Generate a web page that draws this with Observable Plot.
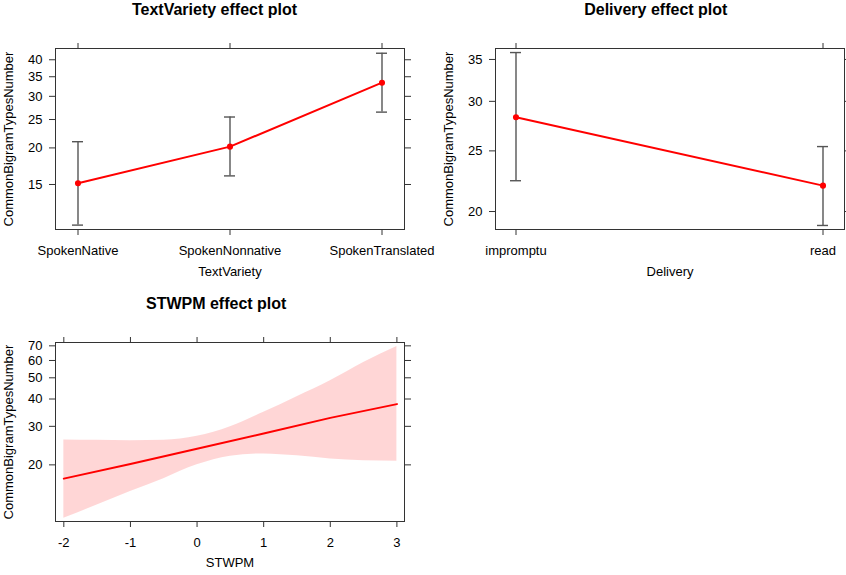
<!DOCTYPE html>
<html><head><meta charset="utf-8">
<script src="https://cdn.jsdelivr.net/npm/d3@7"></script>
<script src="https://cdn.jsdelivr.net/npm/@observablehq/plot@0.6"></script>
<style>
body{margin:0;background:#fff;font-family:Arial,"Liberation Sans",sans-serif;}
#root{position:relative;width:846px;height:575px;overflow:hidden;background:#fff;}
.title{position:absolute;font-weight:bold;font-size:16px;line-height:16px;white-space:nowrap;transform:translateX(-50%);color:#000;font-family:Arial,"Liberation Sans",sans-serif;}
svg{position:absolute;overflow:visible;}
</style></head><body><div id="root"></div>
<script>
// ---- data ----
const textVariety = ["SpokenNative", "SpokenNonnative", "SpokenTranslated"];
const textVarietyFit = [15.15, 20.2, 33.4];
const textVarietyLower = [10.9, 16.05, 26.5];
const textVarietyUpper = [21.0, 25.5, 42.1];
const textVarietyTicks = [15, 20, 25, 30, 35, 40];

const delivery = ["impromptu", "read"];
const deliveryFit = [28.3, 22.0];
const deliveryLower = [22.4, 19.0];
const deliveryUpper = [35.9, 25.4];
const deliveryTicks = [20, 25, 30, 35];

const stwpmFitX = [-2, -1, 0, 1, 2, 3];
const stwpmFit = [17.3, 20.2, 23.7, 27.8, 32.8, 37.9];
const stwpmBandX = [-2, -1.5, -1, -0.5, 0, 0.5, 1, 1.5, 2, 2.5, 3];
const stwpmLower = [11.4, 13.1, 15.1, 17.3, 20.0, 21.9, 22.45, 22.0, 21.3, 20.9, 20.8];
const stwpmUpper = [26.0, 25.9, 25.8, 25.9, 27.0, 29.9, 34.8, 41.0, 48.5, 58.8, 69.5];
const stwpmTicks = [-2, -1, 0, 1, 2, 3];
const yLabel = "CommonBigramTypesNumber";

// ---- rendering ----
const font = 'Arial, "Liberation Sans", sans-serif';
const ink = "#333";
const root = document.getElementById("root");
const style = {fontFamily: font, fontSize: "13px", color: "#000", background: "transparent", overflow: "visible"};

function frameAxes(xTicks, xLabel, yTicks, xFmt, xLabelOffset) {
  return [
    Plot.frame({stroke: ink}),
    Plot.axisX(xTicks ? xTicks : undefined, {anchor: "bottom", tickSize: 6, tickPadding: 10, stroke: ink, tickFormat: xFmt, label: xLabel, labelAnchor: "center", labelArrow: "none", labelOffset: xLabelOffset}),
    Plot.axisX(xTicks ? xTicks : undefined, {anchor: "top", tickSize: 6, stroke: ink, tickFormat: () => "", label: null}),
    Plot.axisY(yTicks, {anchor: "left", tickSize: 6, tickPadding: 7, stroke: ink, tickFormat: d => String(d), label: yLabel, labelAnchor: "center", labelArrow: "none"}),
    Plot.axisY(yTicks, {anchor: "right", tickSize: 6, stroke: ink, tickFormat: () => "", label: null})
  ];
}

function errPanel(cats, fit, lo, hi, yTicks, yDomain, pin, pout, xLabel, width, marginRight) {
  const data = cats.map((c, i) => ({c, fit: fit[i], lo: lo[i], hi: hi[i]}));
  return Plot.plot({
    width, height: 250,
    marginLeft: 55, marginRight, marginTop: 18, marginBottom: 51,
    style,
    x: {type: "band", domain: cats, paddingInner: pin, paddingOuter: pout, align: 0.5},
    y: {type: "log", domain: yDomain},
    marks: [
      ...frameAxes(null, xLabel, yTicks, d => d, 46),
      Plot.ruleX(data, {x: "c", y1: "lo", y2: "hi", stroke: "#555", strokeWidth: 1.4}),
      Plot.tickY(data, {x: "c", y: "lo", stroke: "#555", strokeWidth: 1.4, insetLeft: 2, insetRight: 2}),
      Plot.tickY(data, {x: "c", y: "hi", stroke: "#555", strokeWidth: 1.4, insetLeft: 2, insetRight: 2}),
      Plot.line(data, {x: "c", y: "fit", stroke: "#ff0000", strokeWidth: 2}),
      Plot.dot(data, {x: "c", y: "fit", fill: "#ff0000", stroke: "#ff0000", r: 2.3})
    ]
  });
}

const p1 = errPanel(textVariety, textVarietyFit, textVarietyLower, textVarietyUpper, textVarietyTicks,
  [10.53, 43.7], 0.902, 0.093, "TextVariety", 420, 16);
p1.style.left = "0px"; p1.style.top = "30px";
root.appendChild(p1);

const p2 = errPanel(delivery, deliveryFit, deliveryLower, deliveryUpper, deliveryTicks,
  [18.72, 36.44], 0.951, 0.0432, "Delivery", 406, 2);
p2.style.left = "440px"; p2.style.top = "30px";
root.appendChild(p2);

const band = stwpmBandX.map((x, i) => ({x, lo: stwpmLower[i], hi: stwpmUpper[i]}));
const fitLine = stwpmFitX.map((x, i) => ({x, fit: stwpmFit[i]}));
const p3 = Plot.plot({
  width: 420, height: 248,
  marginLeft: 55, marginRight: 16, marginTop: 18, marginBottom: 51,
  style,
  x: {type: "linear", domain: [-2.125, 3.114]},
  y: {type: "log", domain: [11.02, 72.5]},
  marks: [
    Plot.areaY(band, {x: "x", y1: "lo", y2: "hi", fill: "#ff0000", fillOpacity: 0.16, curve: "monotone-x"}),
    ...frameAxes(stwpmTicks, "STWPM", [20, 30, 40, 50, 60, 70], d => String(d), 45),
    Plot.line(fitLine, {x: "x", y: "fit", stroke: "#ff0000", strokeWidth: 2})
  ]
});
p3.style.left = "0px"; p3.style.top = "324px";
root.appendChild(p3);

const titles = [["TextVariety effect plot", 214.5, 2], ["Delivery effect plot", 655.8, 2], ["STWPM effect plot", 216.2, 296]];
for (const [t, cx, top] of titles) {
  const d = document.createElement("div");
  d.className = "title"; d.textContent = t;
  d.style.left = cx + "px"; d.style.top = top + "px";
  root.appendChild(d);
}
</script></body></html>
